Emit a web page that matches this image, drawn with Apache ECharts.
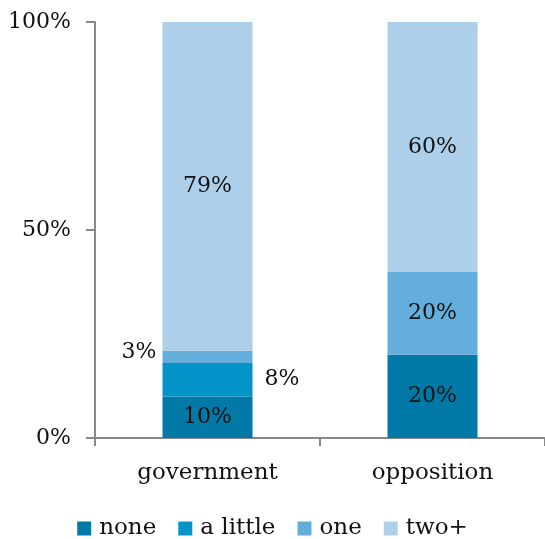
<!DOCTYPE html>
<html>
<head>
<meta charset="utf-8">
<script src="https://cdn.jsdelivr.net/npm/echarts@6/dist/echarts.min.js"></script>
<style>
html, body { margin: 0; padding: 0; background: #fff; }
#chart-0 { width: 545px; height: 539px; }
</style>
</head>
<body>
<div id="chart-0"></div>
<script>
var categories = ['government', 'opposition'];
var seriesNames = ['none', 'a little', 'one', 'two+'];
var noneValues = [10, 20];
var littleValues = [8, 0];
var oneValues = [3, 20];
var twoValues = [79, 60];
var yTicks = [0, 50, 100];

var colors = ['#0079A6', '#0494C9', '#64AEDC', '#AECFEA'];
var font = 'DejaVu Serif';

var chart = echarts.init(document.getElementById('chart-0'));

var SeriesItem = function(name, values, color) {
    return {
        name: name,
        type: 'bar',
        stack: 'total',
        barWidth: 90,
        itemStyle: { color: color },
        label: {
            show: true,
            position: 'inside',
            fontFamily: font,
            fontSize: 22,
            color: '#111',
            formatter: function(p) { return p.value > 0 ? p.value + '%' : ''; }
        },
        data: values.slice()
    }
}

var series = [
    new SeriesItem(seriesNames[0], noneValues, colors[0]),
    new SeriesItem(seriesNames[1], littleValues, colors[1]),
    new SeriesItem(seriesNames[2], oneValues, colors[2]),
    new SeriesItem(seriesNames[3], twoValues, colors[3])
];
// small segments on government get their labels outside the bar
series[1].data[0] = { value: littleValues[0], label: { position: 'right', distance: 12 } };
series[2].data[0] = { value: oneValues[0], label: { position: 'left', distance: 6, offset: [0, -5] } };

var option = {
    animation: false,
    grid: { left: 95, right: -3, top: 22, bottom: 101 },
    legend: {
        bottom: -6,
        left: 'center',
        itemWidth: 14,
        itemHeight: 14,
        itemGap: 22,
        icon: 'rect',
        textStyle: { fontFamily: font, fontSize: 23, color: '#111', padding: [0, 0, 0, 3] },
        data: seriesNames
    },
    xAxis: {
        type: 'category',
        data: categories,
        axisLine: { lineStyle: { color: '#888', width: 2 } },
        axisTick: { show: true, length: 8, lineStyle: { color: '#888', width: 2 } },
        axisLabel: { fontFamily: font, fontSize: 23, color: '#111', margin: 24 }
    },
    yAxis: {
        type: 'value',
        min: yTicks[0],
        max: yTicks[yTicks.length - 1],
        interval: 50,
        axisLine: { show: true, lineStyle: { color: '#888', width: 2 } },
        axisTick: { show: true, length: 9, lineStyle: { color: '#888', width: 2 } },
        splitLine: { show: false },
        axisLabel: {
            fontFamily: font, fontSize: 22, color: '#111', margin: 24,
            formatter: '{value}%'
        }
    },
    series: series
};
chart.setOption(option);
</script>
</body>
</html>
